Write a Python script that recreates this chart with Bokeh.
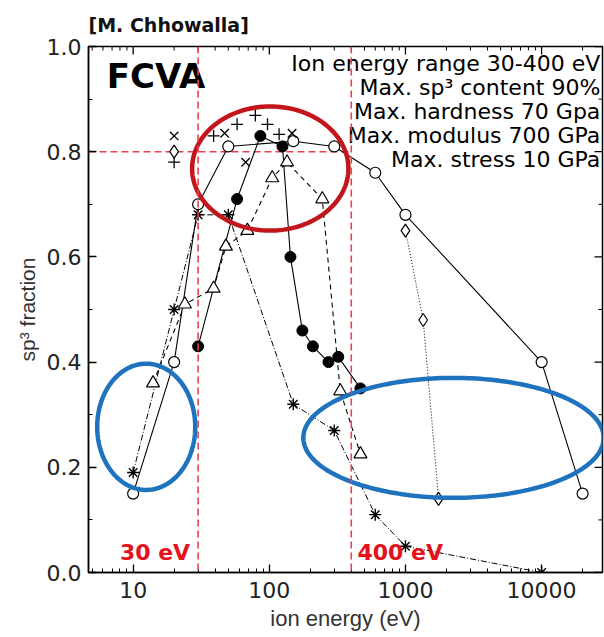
import numpy as np
from bokeh.plotting import figure
from bokeh.models import Range1d, Span, FixedTicker, BasicTickFormatter, PrintfTickFormatter
from bokeh.core.properties import value
from bokeh.embed import file_html
from bokeh.resources import INLINE

# ---------------- data ----------------
e_open_circle = [10, 20, 30, 50, 150, 300, 600, 1000, 10000, 20000]
sp3_open_circle = [0.15, 0.40, 0.70, 0.81, 0.82, 0.81, 0.76, 0.68, 0.40, 0.15]

e_filled = [30, 58, 86, 125, 143, 175, 209, 272, 321, 467]
sp3_filled = [0.43, 0.71, 0.83, 0.81, 0.60, 0.46, 0.43, 0.40, 0.41, 0.35]

e_triangle = [14, 24, 39, 48, 69, 105, 135, 245, 332, 467]
sp3_triangle = [0.36, 0.51, 0.54, 0.62, 0.65, 0.75, 0.78, 0.71, 0.345, 0.225]

e_asterisk = [10, 20, 30, 50, 150, 300, 600, 1000, 10000]
sp3_asterisk = [0.19, 0.50, 0.68, 0.68, 0.32, 0.27, 0.11, 0.05, 0.0]

e_cross = [20, 47, 67, 147]
sp3_cross = [0.83, 0.835, 0.78, 0.835]

e_plus = [20, 39, 58, 79, 97, 118]
sp3_plus = [0.78, 0.83, 0.852, 0.869, 0.852, 0.833]

e_diamond = [20, 1000, 1350, 1750]
sp3_diamond = [0.80, 0.65, 0.48, 0.14]

y_ticks = [0.0, 0.2, 0.4, 0.6, 0.8, 1.0]
y_minor = [0.1, 0.3, 0.5, 0.7, 0.9]
x_ticks = [10, 100, 1000, 10000]
x_minor = [m * d for d in (1, 10, 100, 1000, 10000) for m in range(2, 10) if 4.7 <= m * d <= 28000]

X_MIN, X_MAX = 4.7, 28000

limits_energy = [30, 400]
limit_sp3 = 0.8

info_lines = ["Ion energy range 30-400 eV", "Max. sp\u00b3 content 90%", "Max. hardness 70 Gpa",
              "Max. modulus 700 GPa", "Max. stress 10 GPa"]
info_y = [0.968, 0.922, 0.877, 0.831, 0.786]

# ellipse annotations: centre (log10 E, sp3), half width in decades, half height
ell_cx = [2.007, 1.096, 3.353]
ell_cy = [0.768, 0.277, 0.256]
ell_a = [0.574, 0.36, 1.103]
ell_b = [0.118, 0.12, 0.114]
ell_color = ["#c3161c", "#1f72be", "#1f72be"]

# ---------------- figure ----------------
p = figure(width=604, height=637, x_axis_type="log",
           x_range=Range1d(X_MIN, X_MAX), y_range=Range1d(0, 1.0),
           output_backend="svg", toolbar_location=None,
           min_border_left=88, min_border_right=2, min_border_top=45, min_border_bottom=65,
           background_fill_color="white", border_fill_color="white",
           title="[M. Chhowalla]")
p.outline_line_color = "black"
p.outline_line_width = 1.5
p.xgrid.visible = False
p.ygrid.visible = False

FONT = "DejaVu Sans"

p.title.text_font = FONT
p.title.text_font_size = "19px"
p.title.text_font_style = "bold"
p.title.text_color = "#111111"
p.title.align = "left"
p.title.offset = 0
p.title.standoff = 22

def style_axis(ax):
    ax.axis_line_color = "black"
    ax.axis_line_width = 1.5
    ax.major_tick_in = 8
    ax.major_tick_out = 0
    ax.minor_tick_in = 4
    ax.minor_tick_out = 0
    ax.major_tick_line_color = "black"
    ax.minor_tick_line_color = "black"
    ax.major_tick_line_width = 1.3
    ax.minor_tick_line_width = 1.0
    ax.major_label_text_font = FONT
    ax.major_label_text_font_size = "22px"
    ax.major_label_text_color = "#222222"

xa = p.xaxis[0]
xa.ticker = FixedTicker(ticks=x_ticks, minor_ticks=x_minor)
xa.formatter = BasicTickFormatter(use_scientific=False)
style_axis(xa)
xa.major_label_standoff = 9
xa.axis_label = "ion energy (eV)"
xa.axis_label_text_font = "Liberation Sans"
xa.axis_label_text_font_style = "normal"
xa.axis_label_text_font_size = "22px"
xa.axis_label_text_color = "#333333"
xa.axis_label_standoff = 5

ya = p.yaxis[0]
ya.ticker = FixedTicker(ticks=y_ticks, minor_ticks=y_minor)
ya.formatter = PrintfTickFormatter(format="%.1f")
style_axis(ya)
ya.major_label_standoff = 7
ya.axis_label = "sp\u00b3 fraction"
ya.axis_label_text_font = "Liberation Sans"
ya.axis_label_text_font_style = "normal"
ya.axis_label_text_font_size = "21px"
ya.axis_label_text_color = "#333333"
ya.axis_label_standoff = 5

# inward ticks along the top and right edges (half of each centred dash is clipped away)
p.scatter(x_ticks, [1.0] * len(x_ticks), marker="dash", angle=np.pi / 2, size=16,
          line_color="black", line_width=1.3)
p.scatter(x_minor, [1.0] * len(x_minor), marker="dash", angle=np.pi / 2, size=8,
          line_color="black", line_width=1.0)
p.scatter([X_MAX] * len(y_ticks), y_ticks, marker="dash", size=16,
          line_color="black", line_width=1.3)
p.scatter([X_MAX] * len(y_minor), y_minor, marker="dash", size=8,
          line_color="black", line_width=1.0)

# red dashed guide lines
RED_DASH = "#e8404f"
for e in limits_energy:
    p.add_layout(Span(location=e, dimension="height", line_color=RED_DASH,
                      line_dash="7 4", line_width=1.6))
p.segment(x0=[X_MIN], y0=[limit_sp3], x1=[limits_energy[1]], y1=[limit_sp3],
          line_color=RED_DASH, line_dash="7 4", line_width=1.6)

# series lines
p.line(e_open_circle, sp3_open_circle, line_color="black", line_width=1.1)
p.line(e_filled, sp3_filled, line_color="black", line_width=1.1)
p.line(e_triangle, sp3_triangle, line_color="black", line_width=1.1, line_dash="5 4")
p.line(e_asterisk, sp3_asterisk, line_color="black", line_width=1.0, line_dash="6 2 1 2")
p.line(e_diamond[1:], sp3_diamond[1:], line_color="black", line_width=1.0, line_dash="1 2")

# markers
p.scatter(e_open_circle, sp3_open_circle, marker="circle", size=11,
          fill_color="white", line_color="black", line_width=1.2)
p.scatter(e_filled, sp3_filled, marker="circle", size=11,
          fill_color="black", line_color="black")
p.scatter(e_triangle, sp3_triangle, marker="triangle", size=13,
          fill_color="white", line_color="black", line_width=1.2)
p.scatter(e_asterisk, sp3_asterisk, marker="asterisk", size=12,
          line_color="black", line_width=1.4)
p.scatter(e_cross, sp3_cross, marker="x", size=12, line_color="black", line_width=1.3)
p.scatter(e_plus, sp3_plus, marker="cross", size=12, line_color="black", line_width=1.3)
p.scatter(e_diamond, sp3_diamond, marker="diamond", size=13,
          fill_color="white", line_color="black", line_width=1.2)

# ellipse annotations
t = np.linspace(0, 2 * np.pi, 240)
for cx, cy, a, b, c in zip(ell_cx, ell_cy, ell_a, ell_b, ell_color):
    p.line(10 ** (cx + a * np.cos(t)), cy + b * np.sin(t), line_color=c, line_width=4.5)

# texts
p.text(x=[27000] * len(info_lines), y=info_y, text=info_lines,
       text_font=value(FONT), text_font_size="22px", text_align="right",
       text_baseline="middle", text_color="black")
p.text(x=[6.4], y=[0.943], text=["FCVA"], text_font=value(FONT), text_font_size="34px",
       text_font_style="bold", text_align="left", text_baseline="middle", text_color="black")
p.text(x=[26.2], y=[0.038], text=["30 eV"], text_font=value(FONT), text_font_size="22px",
       text_font_style="bold", text_align="right", text_baseline="middle", text_color="#e3121c")
p.text(x=[444], y=[0.038], text=["400 eV"], text_font=value(FONT), text_font_size="22px",
       text_font_style="bold", text_align="left", text_baseline="middle", text_color="#e3121c")

open("out.html", "w").write(file_html(p, INLINE))
